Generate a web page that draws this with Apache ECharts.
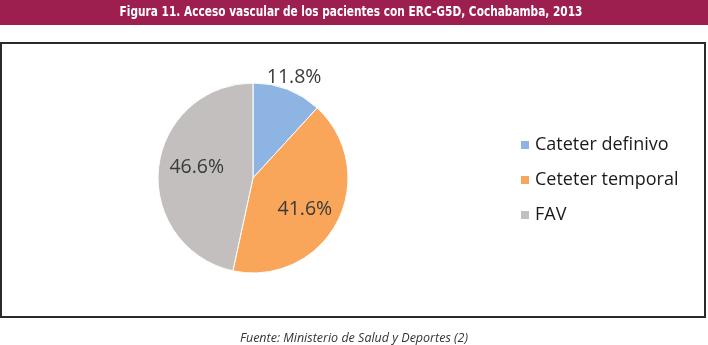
<!DOCTYPE html>
<html>
<head>
<meta charset="utf-8">
<script src="https://cdn.jsdelivr.net/npm/echarts@6/dist/echarts.min.js"></script>
<style>
  html, body { margin: 0; padding: 0; background: #ffffff; }
  #chart { width: 708px; height: 345px; }
</style>
</head>
<body>
<div id="chart"></div>
<script>
// Vascular access types and their shares (%)
const categories = ['Cateter definivo', 'Ceteter temporal', 'FAV'];
const shares = [11.8, 41.6, 46.6];
const sliceColors = ['#8db4e2', '#f9a55a', '#c3bfbf'];

const titleText = 'Figura 11. Acceso vascular de los pacientes con ERC-G5D, Cochabamba, 2013';
const sourceText = 'Fuente: Ministerio de Salud y Deportes (2)';

// Per-slice label placement
const labelSetup = [
  { position: 'outside', offset: [-30, -1] },
  { position: 'inside', offset: [7, 8] },
  { position: 'inside', offset: [-6, -5] }
];

const chart = echarts.init(document.getElementById('chart'), null, { renderer: 'canvas' });

const pieData = categories.map((name, i) => ({
  name: name,
  value: shares[i],
  itemStyle: { color: sliceColors[i] },
  label: labelSetup[i],
  labelLine: { show: false, length: 12, length2: 0 }
}));

chart.setOption({
  animation: false,
  backgroundColor: '#ffffff',
  graphic: [
    {
      type: 'rect',
      shape: { x: 0, y: 0, width: 708, height: 25 },
      style: { fill: '#9d1f4f' },
      z: 0
    },
    {
      type: 'rect',
      shape: { x: 1, y: 43, width: 704, height: 274 },
      style: { fill: 'none', stroke: '#2a2a2a', lineWidth: 2 },
      z: 0
    },
    {
      // condensed banner heading
      type: 'text',
      x: 351,
      y: 12,
      scaleX: 0.84,
      z: 1,
      style: {
        text: titleText,
        fill: '#ffffff',
        font: 'bold 14px "DejaVu Sans Condensed", "DejaVu Sans"',
        textAlign: 'center',
        textVerticalAlign: 'middle'
      }
    }
  ],
  title: [
    {
      text: sourceText,
      left: 'center',
      top: 327,
      textStyle: {
        color: '#333333',
        fontFamily: 'Open Sans, DejaVu Sans',
        fontStyle: 'italic',
        fontWeight: 'normal',
        fontSize: 12.5
      }
    }
  ],
  legend: {
    orient: 'vertical',
    left: 514,
    top: 131,
    icon: 'rect',
    itemWidth: 10,
    itemHeight: 10,
    itemGap: 17,
    data: categories,
    textStyle: {
      color: '#1a1a1a',
      fontFamily: 'Open Sans, Noto Sans, DejaVu Sans',
      fontSize: 18
    }
  },
  series: [
    {
      type: 'pie',
      center: [253, 178],
      radius: 95,
      startAngle: 90,
      clockwise: true,
      data: pieData,
      itemStyle: { borderColor: '#ffffff', borderWidth: 1 },
      label: {
        show: true,
        formatter: (p) => p.value.toFixed(1) + '%',
        color: '#3a3a3a',
        fontFamily: 'Open Sans, Noto Sans, DejaVu Sans',
        fontSize: 19.5
      },
      emphasis: { disabled: true }
    }
  ]
});
</script>
</body>
</html>
